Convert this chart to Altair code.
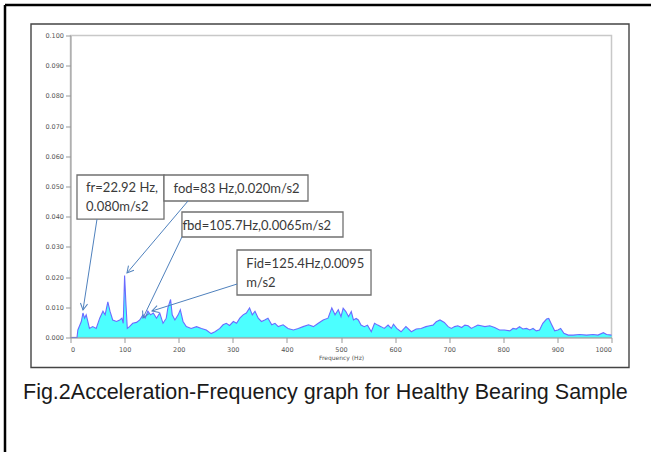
import math
import altair as alt
import pandas as pd

# ---- spectrum data ----
freq_hz = [0, 12, 13.6, 20, 23, 26, 29, 32, 35, 41, 47.5, 54, 60, 64, 69, 73, 78, 85, 91, 95,
           97.5, 100, 102.5, 105, 109, 115, 122, 128, 134, 138, 143, 148, 153, 159, 165, 171,
           177, 180, 185, 188, 193, 199, 203, 208, 214, 223, 233, 242, 251, 260, 267, 276, 282,
           288, 294, 301, 307, 313, 319, 325, 331, 336, 341, 347, 353, 359, 365, 372, 378, 384,
           393, 402, 412, 421, 430, 440, 449, 458, 467, 476, 483, 489, 495, 500, 504, 509, 514,
           519, 523, 528, 532, 537, 543, 549, 556, 562, 568, 574, 580, 587, 593, 597, 603, 611,
           620, 630, 639, 648, 657, 664, 670, 676, 683, 691, 698, 704, 710, 716, 723, 729, 735,
           741, 747, 753, 759, 766, 775, 784, 793, 802, 812, 818, 824, 830, 836, 843, 849, 855,
           861, 867, 873, 880, 884, 889, 895, 901, 906, 912, 920, 929, 941, 954, 966, 975, 985,
           991, 1000]
accel = [0, 0, 0.0025, 0.0053, 0.0081, 0.0064, 0.0075, 0.0053, 0.0030, 0.0036, 0.0030, 0.0064,
         0.0087, 0.0075, 0.0118, 0.0087, 0.0058, 0.0053, 0.0058, 0.0064, 0.0047, 0.0205, 0.0110,
         0.0030, 0.0036, 0.0047, 0.0050, 0.0058, 0.0075, 0.0064, 0.0087, 0.0075, 0.0081, 0.0064,
         0.0081, 0.0047, 0.0064, 0.0098, 0.0126, 0.0075, 0.0058, 0.0075, 0.0092, 0.0053, 0.0036,
         0.0030, 0.0036, 0.0030, 0.0025, 0.0013, 0.0019, 0.0030, 0.0042, 0.0047, 0.0040, 0.0053,
         0.0047, 0.0064, 0.0075, 0.0081, 0.0098, 0.0075, 0.0087, 0.0064, 0.0053, 0.0058, 0.0064,
         0.0042, 0.0047, 0.0036, 0.0042, 0.0030, 0.0025, 0.0030, 0.0036, 0.0042, 0.0036, 0.0047,
         0.0058, 0.0064, 0.0098, 0.0075, 0.0092, 0.0069, 0.0097, 0.0086, 0.0069, 0.0086, 0.0058,
         0.0063, 0.0058, 0.0041, 0.0036, 0.0041, 0.0019, 0.0047, 0.0041, 0.0036, 0.0030, 0.0041,
         0.0030, 0.0044, 0.0030, 0.0019, 0.0036, 0.0019, 0.0028, 0.0030, 0.0036, 0.0039, 0.0041,
         0.0052, 0.0058, 0.0050, 0.0036, 0.0030, 0.0036, 0.0039, 0.0033, 0.0041, 0.0039, 0.0030,
         0.0036, 0.0041, 0.0039, 0.0036, 0.0039, 0.0033, 0.0025, 0.0025, 0.0022, 0.0030, 0.0028,
         0.0036, 0.0028, 0.0030, 0.0025, 0.0030, 0.0022, 0.0025, 0.0047, 0.0061, 0.0063, 0.0044,
         0.0022, 0.0025, 0.0030, 0.0014, 0.0008, 0.0008, 0.0010, 0.0008, 0.0010, 0.0008, 0.0016,
         0.0010, 0.0008]

x_ticks = list(range(0, 1001, 100))
y_ticks = [round(i * 0.01, 2) for i in range(11)]

# ---- annotations (in data units) ----
box_x1 = [12.0, 172.8, 206.0, 307.8]
box_x2 = [172.8, 439.0, 503.7, 555.5]
box_y1 = [0.0392, 0.0452, 0.03328, 0.01407]
box_y2 = [0.0538, 0.0538, 0.04156, 0.02897]

label_text = ["fr=22.92 Hz,", "0.080m/s2", "fod=83 Hz,0.020m/s2",
              "fbd=105.7Hz,0.0065m/s2", "Fid=125.4Hz,0.0095", "m/s2"]
label_x = [28.7, 28.7, 190.5, 207.0, 325.0, 325.0]
label_y = [0.0495, 0.0432, 0.0492, 0.0369, 0.0243, 0.0180]

arrow_x0 = [49.0, 217.2, 206.0, 307.8]
arrow_y0 = [0.0392, 0.0452, 0.0333, 0.0177]
arrow_x1 = [23.1, 104.4, 134.0, 150.6]
arrow_y1 = [0.0091, 0.02136, 0.00646, 0.00877]

caption = "Fig.2Acceleration-Frequency graph for Healthy Bearing Sample"

W, H = 541, 302
XMAX, YMAX = 1000, 0.1

spec = pd.DataFrame({"freq": freq_hz, "acc": accel})
boxes = pd.DataFrame({"x1": box_x1, "x2": box_x2, "y1": box_y1, "y2": box_y2})
labels = pd.DataFrame({"x": label_x, "y": label_y, "t": label_text})

angles = []
for a, b, c, d in zip(arrow_x0, arrow_y0, arrow_x1, arrow_y1):
    dx = (c - a) * W / XMAX
    dy = -(d - b) * H / YMAX
    angles.append(math.degrees(math.atan2(dx, -dy)) % 360)
arrows = pd.DataFrame({"x0": arrow_x0, "y0": arrow_y0, "x1": arrow_x1, "y1": arrow_y1,
                       "ang": angles})

xs = alt.Scale(domain=[0, XMAX], nice=False, zero=False)
ys = alt.Scale(domain=[0, YMAX], nice=False)

axis_common = dict(labelFontSize=6.5, labelColor="#555555", titleColor="#555555",
                   tickColor="#999999", domainColor="#999999", tickSize=5, grid=False,
                   labelFont="DejaVu Sans", titleFont="DejaVu Sans", zindex=1,
                   labelOverlap=False)
x_axis = alt.Axis(values=x_ticks, format="d", title="Frequency (Hz)", titleFontSize=6,
                  titleFontWeight="normal", labelPadding=4, titlePadding=1, **axis_common)
y_axis = alt.Axis(values=y_ticks, format=".3f", title=None, labelPadding=2, **axis_common)


def X(f):
    return alt.X(f, scale=xs, axis=x_axis)


def Y(f):
    return alt.Y(f, scale=ys, axis=y_axis)


one = pd.DataFrame({"a": [0]})

outer_top = alt.Chart(one).mark_rule(color="black", strokeWidth=2.5).encode(
    x=alt.value(-65.5), x2=alt.value(590), y=alt.value(-30.5))
outer_left = alt.Chart(one).mark_rule(color="black", strokeWidth=2.5).encode(
    x=alt.value(-65.5), y=alt.value(-30.5), y2=alt.value(420))
frame = alt.Chart(one).mark_rect(fill=None, stroke="#444", strokeWidth=1.4).encode(
    x=alt.value(-39.5), x2=alt.value(558.5), y=alt.value(-11.5), y2=alt.value(332))
plotbg = alt.Chart(one).mark_rect(fill=None, stroke="#c8c8c8", strokeWidth=1.5).encode(
    x=alt.value(0), x2=alt.value(W), y=alt.value(0), y2=alt.value(H))

area = alt.Chart(spec).mark_area(color="#00ffff", line={"color": "#6b6bff", "strokeWidth": 1.1},
                                 interpolate="linear").encode(
    x=X("freq:Q"), y=Y("acc:Q"))

box_layer = alt.Chart(boxes).mark_rect(fill="white", stroke="#707070", strokeWidth=1.3).encode(
    x=X("x1:Q"), x2="x2:Q", y=Y("y1:Q"), y2="y2:Q")

text_layer = alt.Chart(labels).mark_text(align="left", baseline="middle", font="Lato",
                                         fontSize=13, color="#3a3a3a").encode(
    x=X("x:Q"), y=Y("y:Q"), text="t:N")

arrow_lines = alt.Chart(arrows).mark_rule(color="#4f81bd", strokeWidth=1).encode(
    x=X("x0:Q"), y=Y("y0:Q"), x2="x1:Q", y2="y1:Q")

arrow_heads = alt.Chart(arrows).mark_point(
    shape="M -0.55 1 L 0 0 L 0.55 1", filled=False, color="#4f81bd", strokeWidth=1,
    size=170, opacity=1).encode(
    x=X("x1:Q"), y=Y("y1:Q"), angle=alt.Angle("ang:Q", scale=None))

cap = alt.Chart(one).mark_text(align="left", baseline="middle", font="Liberation Sans",
                               fontSize=21.5, color="#1a1a1a", text=caption).encode(
    x=alt.value(-47.5), y=alt.value(357.5))

chart = alt.layer(outer_top, outer_left, frame, plotbg, area, box_layer, arrow_lines,
                  arrow_heads, text_layer, cap).properties(
    width=W, height=H,
    autosize=alt.AutoSizeParams(type="none"),
    padding={"left": 70.5, "top": 35.5, "right": 39.5, "bottom": 114.5},
    background="white",
).configure_view(stroke=None)

chart.save("out.html", embed_options={"renderer": "svg", "actions": False})
